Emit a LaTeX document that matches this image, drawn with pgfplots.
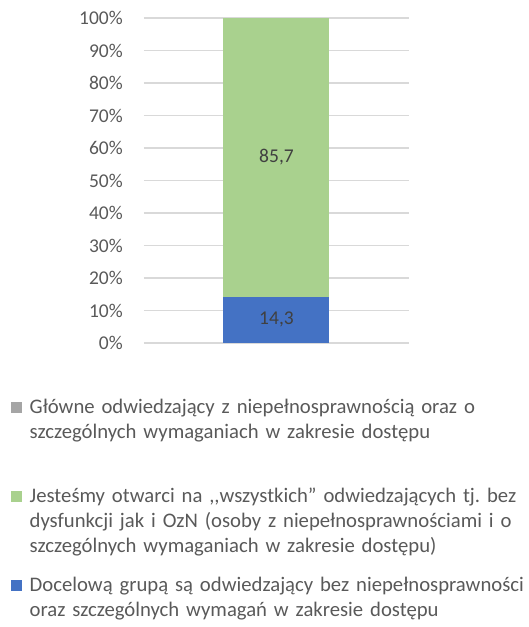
\documentclass[border=0pt]{standalone}
\usepackage{pgfplots}
\pgfplotsset{compat=1.18}
\usepackage{fontspec}
\setmainfont{Carlito}
\frenchspacing
\definecolor{cblue}{HTML}{4472C4}
\definecolor{cgreen}{HTML}{A9D18E}
\definecolor{cgrey}{HTML}{A5A5A5}
\definecolor{ctick}{HTML}{595959}
\definecolor{clab}{HTML}{404040}
\definecolor{cgrid}{HTML}{D9D9D9}
\pgfplotsset{
  common/.style={
    scale only axis,
    width=265pt, height=325pt,
    xmin=-1, xmax=1,
    ymin=0, ymax=100,
    enlargelimits=false,
  }
}
\begin{document}
\begin{tikzpicture}
\useasboundingbox (-144pt,-284pt) rectangle (384pt,343pt);
\begin{axis}[
  common,
  ybar stacked,
  bar width=106pt,
  xtick=\empty,
  ytick={0,10,...,100},
  yticklabel={\pgfmathprintnumber{\tick}\%},
  /pgf/number format/assume math mode=true,
  yticklabel style={font=\fontsize{19.5}{24}\selectfont, text=ctick, anchor=east, inner sep=0pt, xshift=-21pt},
  axis line style={draw=none},
  major tick length=0pt,
  ymajorgrids,
  major grid style={cgrid, line width=1.3pt},
  reverse legend,
  legend image code/.code={\fill[#1] (0pt,0pt) rectangle (11pt,11pt);},
  legend style={
    draw=none, fill=none, inner sep=0pt,
    at={(-0.5019,-0.165)}, anchor=north west,
    font=\fontsize{20.7}{25}\selectfont\frenchspacing,
    text=ctick,
    row sep=69pt, column sep=5.5pt,
    cells={anchor=base west, align=left, inner sep=0pt},
    /tikz/every even column/.append style={text width=505pt},
  },
]
\addplot[fill=cblue, draw=none] coordinates {(0,14.3)};
\addlegendentry{Docelową grupą są odwiedzający bez niepełnosprawności\\oraz szczególnych wymagań w zakresie dostępu}
\addplot[fill=cgreen, draw=none] coordinates {(0,85.7)};
\addlegendentry{Jesteśmy otwarci na {,}{,}wszystkich” odwiedzających tj.\ bez\\dysfunkcji jak i OzN (osoby z niepełnosprawnościami i o\\szczególnych wymaganiach w zakresie dostępu)}
\addplot[fill=cgrey, draw=none] coordinates {(0,0)};
\addlegendentry{Główne odwiedzający z niepełnosprawnością oraz o\\szczególnych wymaganiach w zakresie dostępu}
\end{axis}
% value labels, centred in each segment (segment midpoints: 14.3/2 and 14.3+85.7/2)
\begin{axis}[
  common,
  hide axis,
]
\addplot[draw=none, mark=none, point meta=explicit symbolic,
  nodes near coords,
  nodes near coords style={font=\fontsize{19.5}{24}\selectfont, text=clab, anchor=center}]
  coordinates {(0,7.15) [14,3] (0,57.15) [85,7]};
\end{axis}
\end{tikzpicture}
\end{document}
